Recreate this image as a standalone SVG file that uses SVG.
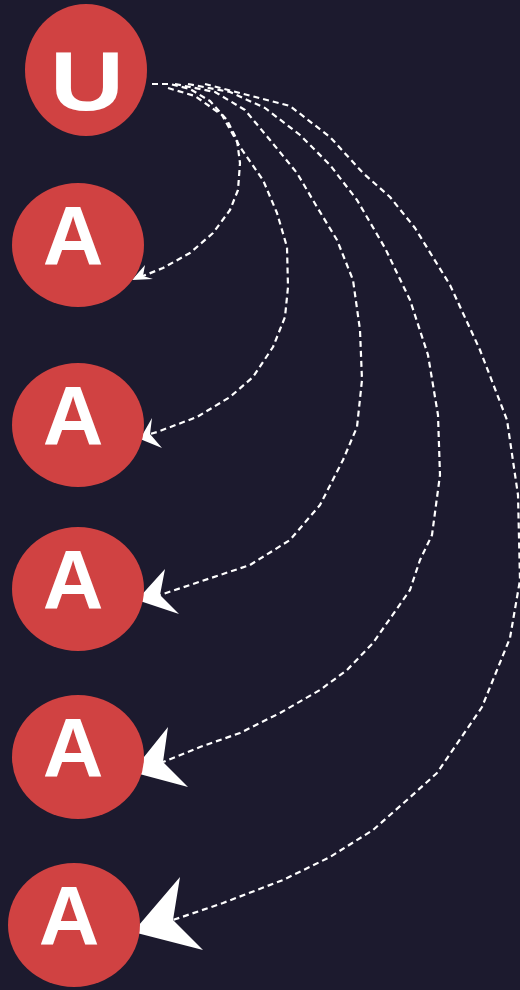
<svg xmlns="http://www.w3.org/2000/svg" width="520" height="990" viewBox="0 0 520 990">
<style>
.bg{fill:#1c1a2e}
.node{fill:#d04242}
.lbl{fill:#ffffff;font-family:"Liberation Sans",Arial,sans-serif;font-weight:bold;font-size:84px;text-anchor:middle}
.edge{fill:none;stroke:#ffffff;stroke-width:2.2;stroke-dasharray:6 4;stroke-linejoin:round}
.head{fill:#ffffff}
</style>
<rect class="bg" x="0" y="0" width="520" height="990"/>
<g id="connectors">
<polyline class="edge" points="152,84 170,84 190,89 210,101 227,120 237,140 240,163 238,190 230,210 213,233 190,253 163,268 143,276"/>
<polygon class="head" points="132,280 145,265 143,276 153,279"/>
<polyline class="edge" points="168,88 195,96 222,115 240,147 263,180 277,213 287,247 288,287 285,317 273,347 253,377 230,397 197,417 157,432 150,434"/>
<polygon class="head" points="140,439 152,418 150,434 162,448"/>
<polyline class="edge" points="175,84 215,92 245,110 270,140 297,173 317,207 337,240 353,280 360,330 362,380 357,427 343,460 320,505 290,540 250,565 190,585 160,595"/>
<polygon class="head" points="137,600 165,569 160,595 179,614"/>
<polyline class="edge" points="188,84 230,92 265,108 300,135 330,165 357,200 385,248 410,300 428,355 438,415 440,475 432,535 420,560 410,590 373,643 347,670 320,690 280,713 240,733 200,747 163,762"/>
<polygon class="head" points="132,772 168,727 163,762 188,787"/>
<polyline class="edge" points="205,84 290,106 330,137 363,173 390,197 415,228 450,285 480,350 507,420 518,495 520,580 510,638 482,707 437,773 407,800 373,830 330,857 283,880 223,903 173,920"/>
<polygon class="head" points="133,932 180,877 173,920 203,950"/>
</g>
<g id="node-u">
<ellipse class="node" cx="86" cy="70" rx="61" ry="66"/>
<text class="lbl" x="87" y="110" textLength="74" lengthAdjust="spacingAndGlyphs">U</text>
</g>
<g id="node-a1">
<ellipse class="node" cx="78" cy="245" rx="66" ry="62"/>
<text class="lbl" x="73" y="265">A</text>
</g>
<g id="node-a2">
<ellipse class="node" cx="78" cy="425" rx="66" ry="62"/>
<text class="lbl" x="73" y="445">A</text>
</g>
<g id="node-a3">
<ellipse class="node" cx="78" cy="589" rx="66" ry="62"/>
<text class="lbl" x="73" y="609">A</text>
</g>
<g id="node-a4">
<ellipse class="node" cx="78" cy="757" rx="66" ry="62"/>
<text class="lbl" x="73" y="777">A</text>
</g>
<g id="node-a5">
<ellipse class="node" cx="74" cy="925" rx="66" ry="62"/>
<text class="lbl" x="69" y="945">A</text>
</g>
</svg>
